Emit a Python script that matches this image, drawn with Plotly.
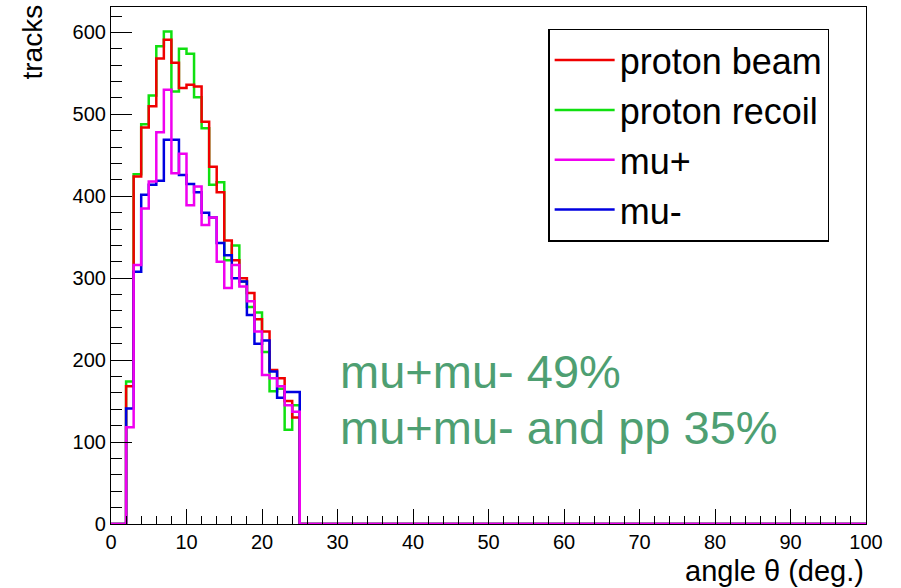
import plotly.graph_objects as go

# Histogram: 23 bins of width 1 deg, from 2 to 25 deg (axis 0..100)
bin_lo = 2
bin_w = 1
x_min, x_max = 0, 100

series_names = ["proton beam", "proton recoil", "mu+", "mu-"]
proton_beam = [168, 424, 484, 510, 568, 591, 563, 532, 536, 534, 491, 436,
               405, 346, 322, 300, 282, 250, 235, 188, 178, 150, 130]
proton_recoil = [174, 427, 488, 523, 583, 601, 528, 580, 574, 521, 483, 414,
                 417, 322, 340, 296, 265, 258, 210, 162, 165, 115, 145]
mu_plus = [118, 316, 385, 418, 478, 530, 428, 452, 389, 412, 365, 374,
           320, 288, 316, 290, 272, 235, 182, 178, 168, 145, 137]
mu_minus = [141, 308, 402, 414, 419, 469, 469, 426, 415, 405, 380, 374,
            343, 328, 300, 296, 255, 220, 224, 186, 154, 161, 161]

colors = {"proton beam": "#f00000", "proton recoil": "#10e010",
          "mu+": "#f000f0", "mu-": "#0000e0"}
data = {"proton beam": proton_beam, "proton recoil": proton_recoil,
        "mu+": mu_plus, "mu-": mu_minus}

n_bins = len(proton_beam)
edges = [bin_lo + i * bin_w for i in range(n_bins + 1)]


def outline(vals):
    xs = [x_min] + edges[:-1] + [edges[-1], x_max]
    ys = [0] + list(vals) + [0, 0]
    return xs, ys


fig = go.Figure()
# draw order: green, red, blue, magenta (magenta on top); legend order kept
draw_order = ["proton recoil", "proton beam", "mu-", "mu+"]
legend_rank = {n: i for i, n in enumerate(series_names)}
for name in draw_order:
    xs, ys = outline(data[name])
    fig.add_trace(go.Scatter(
        x=xs, y=ys, mode="lines", name=name,
        line=dict(color=colors[name], width=2.5, shape="hv"),
        legendrank=legend_rank[name] + 1,
    ))

font_family = "Liberation Sans, Arial, Helvetica, sans-serif"

fig.update_layout(
    width=901, height=588,
    margin=dict(l=111, r=35, t=7, b=64),
    paper_bgcolor="white", plot_bgcolor="white",
    font=dict(family=font_family, color="black"),
    showlegend=True,
    legend=dict(
        x=0.579, y=0.958, xanchor="left", yanchor="top",
        bordercolor="black", borderwidth=1.5, bgcolor="white",
        font=dict(size=36, family=font_family, color="black"),
        tracegroupgap=0, itemwidth=60,
    ),
    xaxis=dict(
        range=[x_min, x_max], showgrid=False, zeroline=False,
        showline=True, linecolor="black", linewidth=1.2, mirror=True,
        ticks="inside", ticklen=15, tickcolor="black", tickwidth=1,
        dtick=10, tick0=0,
        tickfont=dict(size=20, family=font_family, color="black"),
        minor=dict(ticks="inside", ticklen=8, dtick=2, tickcolor="black"),
    ),
    yaxis=dict(
        range=[0, 631], showgrid=False, zeroline=False,
        showline=True, linecolor="black", linewidth=1.2, mirror=True,
        ticks="inside", ticklen=21, tickcolor="black", tickwidth=1,
        dtick=100, tick0=0,
        tickfont=dict(size=20, family=font_family, color="black"),
        minor=dict(ticks="inside", ticklen=11, dtick=20, tickcolor="black"),
    ),
    annotations=[
        dict(text="angle θ (deg.)", xref="paper", yref="paper", x=1.0, y=-0.091,
             xanchor="right", yanchor="middle", showarrow=False,
             font=dict(size=29, family=font_family, color="black")),
        dict(text="tracks", xref="paper", yref="paper", x=-0.1046, y=1.0077,
             xanchor="center", yanchor="top", textangle=-90, showarrow=False,
             font=dict(size=28, family=font_family, color="black")),
        dict(text="mu+mu- 49%", xref="x", yref="y", x=30.0, y=186,
             xanchor="left", yanchor="middle", showarrow=False,
             font=dict(size=47, family=font_family, color="#4e9f72")),
        dict(text="mu+mu- and pp 35%", xref="x", yref="y", x=30.0, y=118,
             xanchor="left", yanchor="middle", showarrow=False,
             font=dict(size=47, family=font_family, color="#4e9f72")),
    ],
)

fig.write_html("out.html")
